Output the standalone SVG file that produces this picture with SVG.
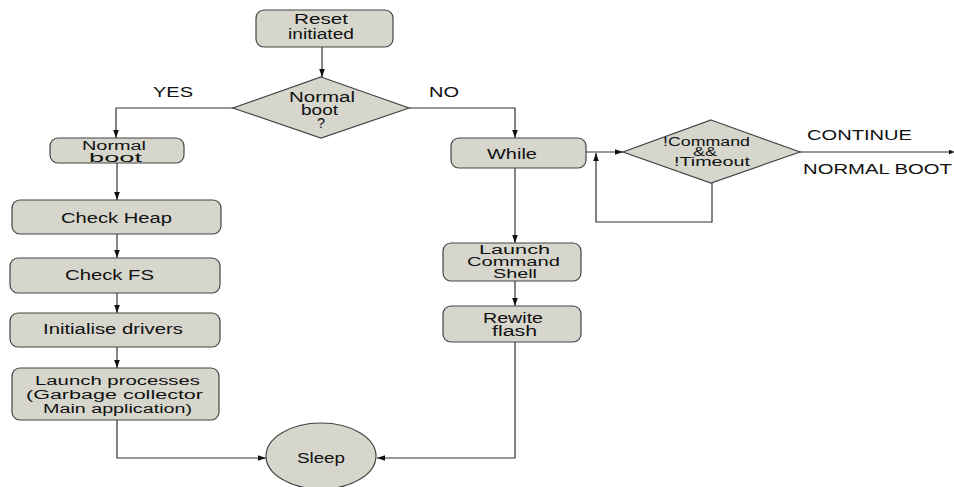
<svg xmlns="http://www.w3.org/2000/svg" width="954" height="487" viewBox="0 0 954 487">
<defs>
<style>
.n{fill:#d6d6cd;stroke:#444;stroke-width:1.2}
.t{font-family:"Liberation Sans",Arial,sans-serif;font-size:14px;fill:#111}
.s{font-size:12.5px}
.c{fill:none;stroke:#333;stroke-width:1.2}
</style>
<marker id="a" viewBox="0 0 10 10" refX="10" refY="5" markerWidth="10" markerHeight="8" markerUnits="userSpaceOnUse" orient="auto"><path d="M0,1.5L10,5L0,8.5z" fill="#111"/></marker>
<marker id="s" viewBox="0 0 10 10" refX="10" refY="5" markerWidth="5" markerHeight="5" markerUnits="userSpaceOnUse" orient="auto"><path d="M0,0L10,5L0,10z" fill="#111"/></marker>
</defs>
<rect width="954" height="487" fill="#fff"/>
<g id="connectors">
<path class="c" d="M322,47V77" marker-end="url(#a)"/>
<path class="c" d="M233,108H116V138" marker-end="url(#a)"/>
<path class="c" d="M409,108H515V138" marker-end="url(#a)"/>
<path class="c" d="M117,163V200" marker-end="url(#a)"/>
<path class="c" d="M117,234V258" marker-end="url(#a)"/>
<path class="c" d="M117,293V313" marker-end="url(#a)"/>
<path class="c" d="M117,347V368" marker-end="url(#a)"/>
<path class="c" d="M117,420V458H266" marker-end="url(#a)"/>
<path class="c" d="M515,168V243" marker-end="url(#a)"/>
<path class="c" d="M515,281V306" marker-end="url(#a)"/>
<path class="c" d="M515,342V458H377" marker-end="url(#a)"/>
<path class="c" d="M586,152H623" marker-end="url(#a)"/>
<path class="c" d="M712,183V222H596V153" marker-end="url(#a)"/>
<path class="c" d="M800,152H954" marker-end="url(#s)"/>
<text class="t" x="153" y="97" textLength="40" lengthAdjust="spacingAndGlyphs">YES</text>
<text class="t" x="429" y="97" textLength="30" lengthAdjust="spacingAndGlyphs">NO</text>
<text class="t" x="807" y="140" textLength="105" lengthAdjust="spacingAndGlyphs">CONTINUE</text>
<text class="t" x="803" y="174" textLength="149" lengthAdjust="spacingAndGlyphs">NORMAL BOOT</text>
</g>
<g id="reset"><rect class="n" x="256" y="10" width="137" height="37" rx="8"/><text class="t" x="294" y="24" textLength="54" lengthAdjust="spacingAndGlyphs">Reset</text><text class="t" x="288" y="39" textLength="66" lengthAdjust="spacingAndGlyphs">initiated</text></g>
<g id="normalq"><path class="n" d="M321,77L409,108L321,138L233,108z"/><text class="t" x="289" y="102" textLength="66" lengthAdjust="spacingAndGlyphs">Normal</text><text class="t" x="301" y="115" textLength="37" lengthAdjust="spacingAndGlyphs">boot</text><text class="t" x="317" y="128" textLength="8" lengthAdjust="spacingAndGlyphs">?</text></g>
<g id="normalboot"><rect class="n" x="50" y="138" width="134" height="25" rx="8"/><text class="t s" x="82" y="150" textLength="64" lengthAdjust="spacingAndGlyphs">Normal</text><text class="t s" x="89" y="162" textLength="53" lengthAdjust="spacingAndGlyphs">boot</text></g>
<g id="checkheap"><rect class="n" x="12" y="200" width="209" height="34" rx="8"/><text class="t" x="61" y="223" textLength="111" lengthAdjust="spacingAndGlyphs">Check Heap</text></g>
<g id="checkfs"><rect class="n" x="10" y="258" width="210" height="35" rx="8"/><text class="t" x="65" y="280" textLength="89" lengthAdjust="spacingAndGlyphs">Check FS</text></g>
<g id="drivers"><rect class="n" x="10" y="313" width="210" height="34" rx="8"/><text class="t" x="43" y="334" textLength="140" lengthAdjust="spacingAndGlyphs">Initialise drivers</text></g>
<g id="launch"><rect class="n" x="12" y="368" width="207" height="52" rx="8"/><text class="t s" x="35" y="385" textLength="165" lengthAdjust="spacingAndGlyphs">Launch processes</text><text class="t s" x="26" y="399" textLength="177" lengthAdjust="spacingAndGlyphs">(Garbage collector</text><text class="t s" x="43" y="413" textLength="149" lengthAdjust="spacingAndGlyphs">Main application)</text></g>
<g id="sleep"><ellipse class="n" cx="321" cy="456" rx="55" ry="33"/><text class="t" x="297" y="463" textLength="48" lengthAdjust="spacingAndGlyphs">Sleep</text></g>
<g id="while"><rect class="n" x="451" y="138" width="135" height="30" rx="8"/><text class="t" x="487" y="159" textLength="50" lengthAdjust="spacingAndGlyphs">While</text></g>
<g id="cmdq"><path class="n" d="M711,120L800,152L711,183L623,152z"/><text class="t s" x="663" y="146" textLength="87" lengthAdjust="spacingAndGlyphs">!Command</text><text class="t s" x="693" y="156" textLength="24" lengthAdjust="spacingAndGlyphs">&amp;&amp;</text><text class="t s" x="674" y="166" textLength="76" lengthAdjust="spacingAndGlyphs">!Timeout</text></g>
<g id="shell"><rect class="n" x="443" y="243" width="138" height="38" rx="8"/><text class="t s" x="479" y="254" textLength="71" lengthAdjust="spacingAndGlyphs">Launch</text><text class="t s" x="467" y="266" textLength="93" lengthAdjust="spacingAndGlyphs">Command</text><text class="t s" x="493" y="278" textLength="44" lengthAdjust="spacingAndGlyphs">Shell</text></g>
<g id="rewite"><rect class="n" x="443" y="306" width="138" height="36" rx="8"/><text class="t" x="483" y="323" textLength="60" lengthAdjust="spacingAndGlyphs">Rewite</text><text class="t" x="492" y="336" textLength="45" lengthAdjust="spacingAndGlyphs">flash</text></g>
</svg>
